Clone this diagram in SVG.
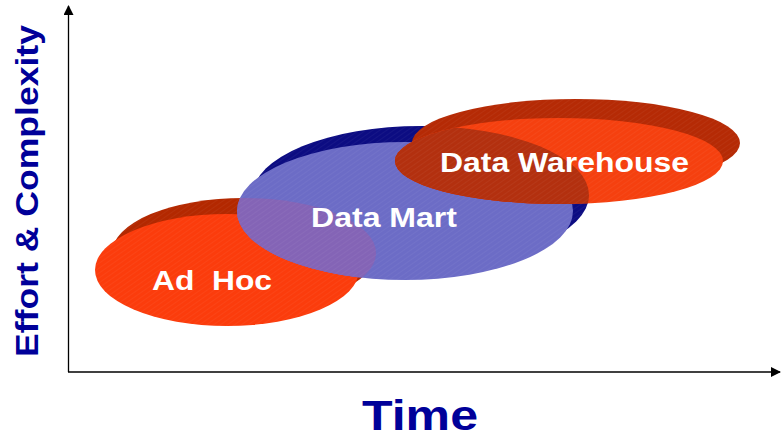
<svg xmlns="http://www.w3.org/2000/svg" width="781" height="445" viewBox="0 0 781 445">
<style>
.lbl{font-family:"Liberation Sans",Arial,sans-serif;font-weight:bold;fill:#ffffff;font-size:28px}
.ax{font-family:"Liberation Sans",Arial,sans-serif;font-weight:bold;fill:#000099}
.axis{stroke:#000;stroke-width:1.3;fill:none}
.h{fill:url(#hatch)}
</style>
<defs>
<pattern id="hatch" width="4" height="4" patternUnits="userSpaceOnUse" patternTransform="rotate(-35)">
<line x1="0" y1="0" x2="4" y2="0" stroke="#ffffff" stroke-width="0.6" stroke-opacity="0.15"/>
</pattern>
<marker id="arr" markerWidth="10" markerHeight="10" refX="9" refY="5" orient="auto" markerUnits="userSpaceOnUse">
<path d="M0,0 L10,5 L0,10 Z" fill="#000"/>
</marker>
<clipPath id="dwclip"><ellipse cx="559" cy="161" rx="164" ry="43"/></clipPath>
<clipPath id="dmclip"><ellipse cx="405" cy="211" rx="168" ry="69"/></clipPath>
</defs>
<g id="connectors">
<line class="axis" x1="68.5" y1="372" x2="68.5" y2="6" marker-end="url(#arr)"/>
<line class="axis" x1="68" y1="372" x2="780" y2="372" marker-end="url(#arr)"/>
</g>
<g id="adhoc">
<ellipse cx="244" cy="253" rx="132" ry="55" fill="#b32800"/>
<ellipse class="h" cx="244" cy="253" rx="132" ry="55"/>
<ellipse cx="227" cy="270" rx="132" ry="56" fill="#fb3c0c"/>
<ellipse class="h" cx="227" cy="270" rx="132" ry="56"/>
</g>
<g id="datamart">
<ellipse cx="421" cy="195" rx="168" ry="69" fill="#0c0c82"/>
<ellipse class="h" cx="421" cy="195" rx="168" ry="69"/>
<ellipse cx="405" cy="211" rx="168" ry="69" fill="#6c6cc6"/>
<g clip-path="url(#dmclip)" fill="#8464b6">
<ellipse cx="244" cy="253" rx="132" ry="55"/>
<ellipse cx="227" cy="270" rx="132" ry="56"/>
</g>
<ellipse class="h" cx="405" cy="211" rx="168" ry="69"/>
</g>
<g id="warehouse">
<ellipse cx="576" cy="143" rx="164" ry="44" fill="#b52a05"/>
<ellipse class="h" cx="576" cy="143" rx="164" ry="44"/>
<ellipse cx="559" cy="161" rx="164" ry="43" fill="#f5400f"/>
<g clip-path="url(#dwclip)" fill="#b3300f">
<ellipse cx="421" cy="195" rx="168" ry="69"/>
<ellipse cx="405" cy="211" rx="168" ry="69"/>
</g>
<ellipse class="h" cx="559" cy="161" rx="164" ry="43"/>
</g>
<g id="labels">
<text class="lbl" x="152" y="290" textLength="120" lengthAdjust="spacingAndGlyphs" xml:space="preserve">Ad  Hoc</text>
<text class="lbl" x="311" y="227" textLength="146" lengthAdjust="spacingAndGlyphs">Data Mart</text>
<text class="lbl" x="440" y="172" textLength="249" lengthAdjust="spacingAndGlyphs">Data Warehouse</text>
</g>
<text class="ax" x="362" y="430" font-size="42" textLength="116" lengthAdjust="spacingAndGlyphs">Time</text>
<text class="ax" transform="translate(38,357) rotate(-90)" font-size="31" textLength="332" lengthAdjust="spacingAndGlyphs">Effort &amp; Complexity</text>
</svg>
